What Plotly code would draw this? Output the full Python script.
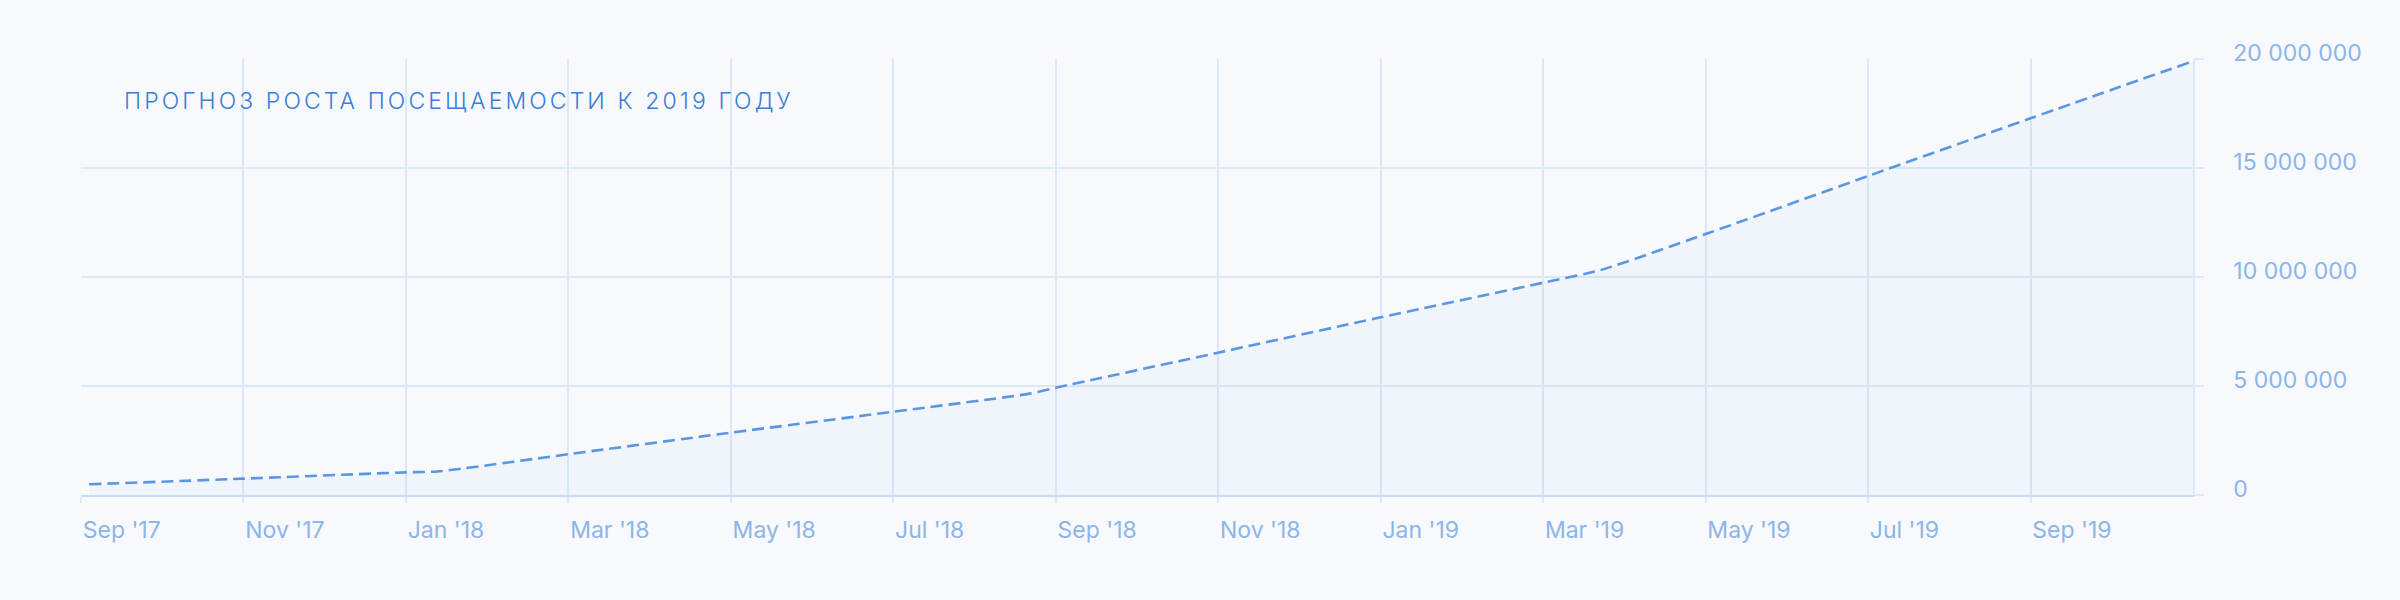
import calendar
import plotly.graph_objects as go

# ---- data ----
dates = ["2017-09-04", "2017-11-01", "2018-01-01", "2018-01-13", "2018-03-01",
         "2018-05-01", "2018-07-01", "2018-08-22", "2018-09-01", "2018-11-01",
         "2019-01-01", "2019-03-01", "2019-03-23", "2019-05-01", "2019-07-01",
         "2019-09-01", "2019-11-01"]
visitors_mln = [0.49, 0.75, 1.04, 1.08, 1.87,
                2.86, 3.82, 4.65, 4.92, 6.53,
                8.15, 9.74, 10.32, 11.97, 14.63,
                17.28, 19.9]
x_tick_labels = ["Sep '17", "Nov '17", "Jan '18", "Mar '18", "May '18", "Jul '18",
                 "Sep '18", "Nov '18", "Jan '19", "Mar '19", "May '19", "Jul '19",
                 "Sep '19"]
y_tick_values = [0, 5_000_000, 10_000_000, 15_000_000, 20_000_000]
y_tick_labels = ["0", "5 000 000", "10 000 000", "15 000 000", "20 000 000"]
title_text = "ПРОГНОЗ РОСТА ПОСЕЩАЕМОСТИ К 2019 ГОДУ"


def month_index(s):
    y, m, d = map(int, s.split("-"))
    return (y - 2017) * 12 + (m - 9) + (d - 1) / calendar.monthrange(y, m)[1]


x_vals = [month_index(d) for d in dates]
y_vals = [v * 1e6 for v in visitors_mln]
x_tick_vals = [2 * i for i in range(len(x_tick_labels))]

GRID = "#dde8f6"
LABEL = "#8db5e8"
BG = "#f7f9fc"

fig = go.Figure()
fig.add_trace(go.Scatter(
    x=x_vals, y=y_vals, mode="lines",
    line=dict(color="#5a96e2", width=2.6, dash="12px,6px", shape="spline", smoothing=0.6),
    fill="tozeroy", fillcolor="rgba(90,150,226,0.045)",
    hoverinfo="skip", showlegend=False,
))

fig.update_layout(
    width=2400, height=600,
    margin=dict(l=81, r=207, t=59, b=105),
    paper_bgcolor=BG, plot_bgcolor=BG,
    title=dict(text=title_text, x=124 / 2400, xanchor="left", xref="container",
               y=1 - 101 / 600, yanchor="middle", yref="container",
               font=dict(family="Inter", size=23, color="#3a7ed9", weight=300)),
    xaxis=dict(range=[0, 26], tickvals=x_tick_vals, ticktext=x_tick_labels,
               showgrid=True, gridcolor=GRID, gridwidth=1.5,
               ticks="outside", ticklen=6, tickcolor=GRID, tickwidth=1.5,
               ticklabelposition="outside right", ticklabelstandoff=13,
               tickfont=dict(family="Inter", size=23, color=LABEL),
               showline=True, linecolor="#c8dbf3", linewidth=2, zeroline=False,
               fixedrange=True),
    yaxis=dict(side="right", range=[0, 20_000_000], tickvals=y_tick_values, ticktext=y_tick_labels,
               showgrid=True, gridcolor=GRID, gridwidth=1.5,
               ticks="outside", ticklen=9, tickcolor=GRID, tickwidth=1.5,
               ticklabelstandoff=25, ticklabelshift=-6,
               tickfont=dict(family="Inter", size=23, color=LABEL),
               showline=True, linecolor=GRID, linewidth=1.5, zeroline=False,
               fixedrange=True),
)

post = ("document.body.style.margin='0';document.body.style.overflow='hidden';"
        "document.querySelectorAll('.gtitle').forEach(function(e){e.style.letterSpacing='3.1px';});")

fig.write_html("out.html", config={"displayModeBar": False}, post_script=post)
